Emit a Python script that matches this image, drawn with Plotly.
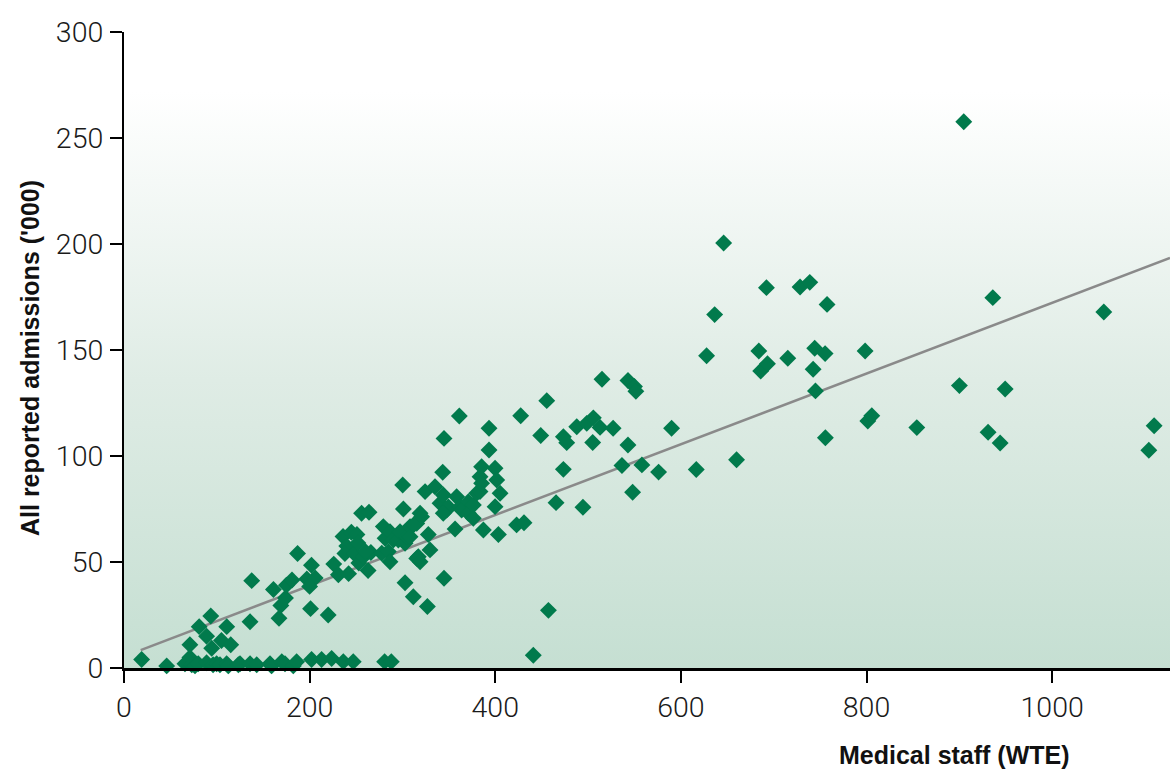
import plotly.graph_objects as go

# Medical staff (WTE) and all reported admissions ('000) per trust
staff_wte = [
    19, 46, 65.7, 71, 73, 76.5, 80, 89, 96, 99.8, 103.4, 110.6, 112.4, 123.2, 125, 135.8, 143,
    157.3, 159, 170, 173.5, 182.4, 186, 202.1, 212.9, 223.7, 236.3, 247, 280.8, 288, 441,
    71, 81, 89, 93.5, 94.5, 110.7, 105, 115, 135.8,
    167, 169, 174, 161, 175, 181, 137.6, 187,
    202, 197, 206, 200, 201, 220,
    226, 231, 242, 236, 240, 238, 245, 248, 251, 252, 253, 256, 264, 258, 263, 266, 260,
    277.7, 279.4, 281.3, 284.8, 286.6, 286.6, 290.2, 295.6, 297.4, 300.3, 301, 302.8, 302.8,
    304.6, 308.2, 308.2, 311.7, 315.4, 315.4, 317.1, 319, 319, 320.7, 312, 324.4, 326.9,
    327.9, 329.7, 335.1, 340.5, 343.4, 344.1, 344.8, 344.8, 347.7, 349.5, 344, 356.7, 358.4,
    361.3, 362.1, 363.8, 371, 371, 376.4, 376.4, 380, 383.6, 383.6, 385.3, 385.3, 387.2,
    393.3, 393.3, 399.8, 399.8, 401.6, 403.4, 405.2, 423, 431, 427.4,
    449, 455.5, 457.3, 465.5, 473.4, 477, 473.4, 487.8, 494.5, 498.6, 505.7, 512.9, 505,
    515, 527, 536.5, 543, 543, 548, 550, 551.5, 558, 576, 590, 616.6, 627.7, 636.4, 646.1,
    660, 684, 686, 692.2, 693.3, 715.2, 728.4, 738.9, 742.5, 744.2, 745, 755.4, 755.7,
    757.5, 798.5, 801.4, 805.7, 854.2, 900.1, 904.8, 931, 936.1, 944, 949.4, 1055.7,
    1104.2, 1109.9,
]
admissions_k = [
    4, 1, 2, 5, 1.5, 1, 2, 2.5, 1.5, 2, 1.5, 2, 1, 1.5, 2, 2, 1.5,
    2, 1, 3, 2, 1, 3, 4, 4, 4.5, 3, 3, 3, 3, 6,
    11, 19.5, 15, 24.5, 9.3, 19.5, 13, 11, 21.8,
    23.5, 29.5, 33, 37, 39, 41.5, 41.2, 54,
    48.5, 42, 42.5, 38.5, 28, 25,
    49, 44, 44.5, 62, 57.5, 54, 64, 54, 63, 59, 49.5, 73, 73.5, 52.5, 46, 54.5, 55,
    54.1, 66.7, 61.2, 54.9, 64.3, 50.1, 60.4, 60.4, 64.3, 86.3, 75, 58.8, 40.2,
    61.9, 66.7, 61.9, 33.6, 68.2, 51.7, 52.5, 50.1, 73, 71.4, 67.5, 83.2, 29,
    63, 55.7, 85.5, 77.7, 92.3, 81.6, 42.3, 108.3, 74.5, 76, 73, 65.6, 80.8,
    118.9, 76.1, 74.5, 78.4, 73, 76.9, 70.6, 82.4, 83.2, 90.2, 94.9, 87.1, 65.1,
    113.1, 102.8, 94.2, 76.1, 88.7, 63, 82.4, 67.5, 68.5, 119,
    109.7, 126.1, 27.2, 78, 109.1, 106.3, 93.7, 113.8, 75.8, 115.4, 118, 113.5, 106.4,
    136.2, 113.1, 95.5, 105.2, 135.6, 82.9, 132.8, 130.5, 95.8, 92.4, 113.1, 93.6, 147.3, 166.7, 200.5,
    98.2, 149.5, 140.1, 179.4, 143.5, 146.1, 179.7, 181.9, 140.9, 150.8, 130.7, 148.3, 108.6,
    171.5, 149.5, 116.5, 119, 113.4, 133.2, 257.7, 111.2, 174.7, 106.1, 131.6, 167.9,
    102.7, 114.3,
]

# Fitted trend line (intercept, slope) and its extent along x
trend_intercept = 5.45
trend_slope = 0.1668
trend_x = [18, 1127]
trend_y = [trend_intercept + trend_slope * v for v in trend_x]

x_ticks = [0, 200, 400, 600, 800, 1000]
y_ticks = [0, 50, 100, 150, 200, 250, 300]

X_MAX = 1127
Y_MAX = 300
BG_TOP = 272

fig = go.Figure()

# Gradient background panel
fig.add_trace(go.Scatter(
    x=[0, X_MAX, X_MAX, 0, 0], y=[0, 0, BG_TOP, BG_TOP, 0],
    mode="lines", line=dict(width=0), fill="toself",
    fillgradient=dict(type="vertical", start=0, stop=BG_TOP,
                      colorscale=[[0, "#c5dfd2"], [0.5, "#dfece5"], [1, "#ffffff"]]),
    hoverinfo="skip", showlegend=False,
))

fig.add_trace(go.Scatter(
    x=trend_x, y=trend_y, mode="lines",
    line=dict(color="#8a8a8a", width=2.5),
    hoverinfo="skip", showlegend=False,
))

fig.add_trace(go.Scatter(
    x=staff_wte, y=admissions_k, mode="markers",
    marker=dict(symbol="diamond", size=13, color="#017a4c", line=dict(width=0)),
    cliponaxis=False, showlegend=False,
))

tick_font = dict(family="Roboto, Liberation Sans, Arial", size=28.5, color="#1a1a1a", weight=300)
title_font = dict(family="Liberation Sans Narrow, Arial Narrow, Liberation Sans, Arial",
                  size=25, color="#111111", weight="bold")

fig.update_layout(
    width=1170, height=776,
    margin=dict(l=124, r=0, t=32, b=108),
    paper_bgcolor="white", plot_bgcolor="white",
    xaxis=dict(range=[0, X_MAX], tickvals=x_ticks, ticktext=[str(v) for v in x_ticks],
               showgrid=False, zeroline=False, showline=True, linecolor="black", linewidth=2.5,
               ticks="outside", ticklen=12, tickwidth=2, tickcolor="black",
               tickfont=tick_font, ticklabelstandoff=0),
    yaxis=dict(range=[0, Y_MAX], tickvals=y_ticks, ticktext=[str(v) for v in y_ticks],
               showgrid=False, zeroline=False, showline=True, linecolor="black", linewidth=2,
               ticks="outside", ticklen=12, tickwidth=2, tickcolor="black",
               tickfont=tick_font, ticklabelstandoff=1),
    annotations=[
        dict(text="All reported admissions ('000)", xref="paper", yref="paper",
             x=-124 / 1046 + 30 / 1046, y=(668 - 358) / 636, textangle=-90,
             showarrow=False, font=title_font, xanchor="center", yanchor="middle"),
        dict(text="Medical staff (WTE)", xref="paper", yref="paper",
             x=(954 - 124) / 1046, y=-(755 - 668) / 636,
             showarrow=False, font=title_font, xanchor="center", yanchor="middle"),
    ],
)

fig.write_html("out.html")
